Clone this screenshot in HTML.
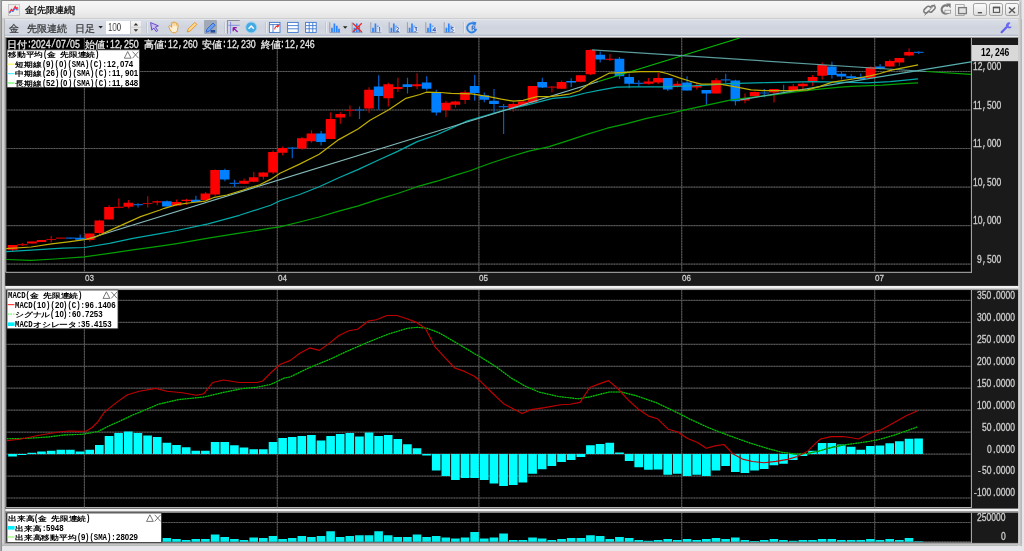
<!DOCTYPE html>
<html><head><meta charset="utf-8"><title>chart</title>
<style>
html,body{margin:0;padding:0}
body{width:1024px;height:551px;overflow:hidden;position:relative;background:#e7e7eb;font-family:"Liberation Sans",sans-serif}
.t{position:absolute;white-space:nowrap;display:block;transform-origin:0 50%;}
.m{font-family:"Liberation Mono",monospace}
.c{font-family:"Liberation Sans",sans-serif}
#chart{position:absolute;left:0;top:0}
#labels{will-change:transform}
#frame-l{position:absolute;left:0;top:0;width:2.1px;height:551px;background:linear-gradient(90deg,#a9a9a9 0,#a9a9a9 1.3px,#8e8e8e 1.3px,#8e8e8e 2.1px)}
#win{position:absolute;left:2.1px;top:0;width:1019.5px;height:545.5px;background:linear-gradient(180deg,#d2d2d2 0,#d2d2d2 543px,#c6c6c6 544px,#b9b9b9 545.5px)}
#win-l{position:absolute;left:3.7px;top:19px;width:1.5px;height:524.5px;background:#b6b6b6}
#frame-r{position:absolute;left:1018.1px;top:19px;width:3.5px;height:526.5px;background:linear-gradient(90deg,#d6d6d6 0,#d2d2d2 1.2px,#c4c4c4 2.2px,#b8b8b8 3.5px)}
#frame-b{position:absolute;left:2.1px;top:543.7px;width:1019.5px;height:1.8px;background:linear-gradient(180deg,#cfcfcf,#b8b8b8)}
#title{position:absolute;left:2.1px;top:0;width:1017.4px;height:19px;background:linear-gradient(180deg,#8a8a8a 0,#8a8a8a 0.8px,#f6f6f6 1px,#efefef 10px,#e3e3e3 18.4px,#b8b8b8 18.6px,#b8b8b8 19px)}
#tool{position:absolute;left:4.6px;top:19.4px;width:1013.8px;height:16.2px;background:linear-gradient(180deg,#eef0f4 0,#d9dde6 1px,#cfd4de 8px,#d2d7e0 15px,#b9c0cf 16.2px)}
#tool2{position:absolute;left:4.6px;top:35.6px;width:1013.8px;height:1.6px;background:#e9ebef}
.ttext{position:absolute;white-space:nowrap;color:#222}
.btn{position:absolute;top:3.4px;width:13.1px;height:13px;border:0.9px solid #a2a2a2;border-radius:2.2px;background:linear-gradient(180deg,#fafafa,#f0f0f0 45%,#dedede);box-sizing:border-box}
.sep{position:absolute;top:22px;width:1px;height:11px;background:#c2c7d2;box-shadow:1px 0 0 #e6e9ef}
.hl{position:absolute;top:20.4px;height:13.6px;background:#a2a9b6;border-radius:1px}

.ttext{will-change:transform}
#tr-line{position:absolute;left:1019.5px;top:1.5px;width:0.9px;height:17.5px;background:#bdbdbd}

</style></head><body>
<div id="frame-l"></div><div id="win"></div><div id="win-l"></div><div id="frame-r"></div><div id="frame-b"></div><div id="tr-line"></div>
<div id="title">
 <svg style="position:absolute;left:6px;top:4px" width="12" height="12" viewBox="0 0 12 12"><rect x="0.4" y="0.4" width="11.2" height="11.2" fill="#ececec" stroke="#bdbdbd" stroke-width="0.8"/><path d="M1.2 8.6 L3.4 5.4 L4.8 6.8 L7.2 2.6 L8.4 4.6 L10 3.6" stroke="#ff2840" stroke-width="1.3" fill="none"/><path d="M1.6 9.4 L3.6 6.6 L5 7.8 L7.2 4.2 L8.6 6 L10.4 5.6" stroke="#3070e0" stroke-width="0.9" fill="none"/></svg>
 <span class="ttext" style="left:22.8px;top:2.7px;font-size:9.4px;line-height:13px;color:#000;-webkit-text-stroke:0.25px #000">金[先限連続]</span>
 <svg style="position:absolute;left:917.9px;top:0" width="52" height="19" viewBox="920 0 52 19" fill="none" stroke="#7a7a7a"><g stroke-width="1.5" stroke-linecap="round"><path d="M928.6 11.2 l-1.2 1.2 a2.1 2.1 0 0 1 -3 -3 l2.6 -2.6 a2.1 2.1 0 0 1 3 0"/><path d="M930.4 8.8 l1.2 -1.2 a2.1 2.1 0 0 1 3 3 l-2.6 2.6 a2.1 2.1 0 0 1 -3 0" transform="translate(0 -1.6)"/></g><path d="M924.6 15.4 L934.8 4.4" stroke-width="1"/><path d="M948.2 6.2 a4.1 4.1 0 1 0 0.9 5.6" stroke-width="2.1"/><path d="M946 3.6 h4.6 v4.6 z" fill="#7a7a7a" stroke="none"/><rect x="944.9" y="10.2" width="5.8" height="3" fill="#f2f2f2" stroke="#8a8a8a" stroke-width="0.7"/><rect x="955.6" y="4.6" width="8.6" height="10.8" stroke-width="0.8" stroke="#9a9a9a"/><rect x="958.6" y="7.6" width="7.8" height="6" stroke-width="1.3" fill="#e2e2e2"/></svg>
 <div class="btn" style="left:971.4px"></div><div class="btn" style="left:987.4px"></div><div class="btn" style="left:1003.4px"></div>
 <svg style="position:absolute;left:967.9px;top:0" width="52" height="19" viewBox="970 0 52 19" fill="none" stroke="#555"><path d="M977.8 12.7 H982" stroke-width="1.4"/><rect x="993.4" y="7.6" width="6.2" height="4.8" stroke-width="1.1"/><path d="M992.9 7.4 H1000.1" stroke-width="1.6"/><path d="M1009 7.5 L1015 13.1 M1015 7.5 L1009 13.1" stroke-width="1.4"/></svg>
</div>
<div id="tool"></div><div id="tool2"></div>
<span class="ttext" style="left:8.6px;top:22.6px;font-size:9.6px;line-height:12px;color:#333;-webkit-text-stroke:0.2px #333">金</span>
<span class="ttext" style="left:26.6px;top:22.6px;font-size:9.6px;line-height:12px;color:#333;-webkit-text-stroke:0.2px #333">先限連続</span>
<span class="ttext" style="left:74.6px;top:22.6px;font-size:9.6px;line-height:12px;color:#333;-webkit-text-stroke:0.2px #333">日足</span>
<svg style="position:absolute;left:97px;top:24px" width="8" height="7" viewBox="0 0 8 7"><path d="M1.4 2 h4.4 l-2.2 2.6 z" fill="#222"/></svg>
<div style="position:absolute;left:106.2px;top:21.4px;width:23.6px;height:12.6px;background:#fff"></div>
<span class="ttext t c" style="left:108.2px;top:21.9px;font-size:10.4px;line-height:12px;color:#3c3c3c;transform:scaleX(0.76)">100</span>
<div style="position:absolute;left:130px;top:21.4px;width:11.4px;height:12.6px;background:linear-gradient(180deg,#f4f4f4,#dedede);border-left:0.6px solid #c4c4c4;box-sizing:border-box"></div>
<svg style="position:absolute;left:130px;top:21.4px" width="12" height="13" viewBox="0 0 12 13"><path d="M0.6 6.3 H11.4" stroke="#bdbdbd" stroke-width="0.6"/><path d="M3.6 4.6 L5.9 2 L8.2 4.6 z M3.6 8.2 L5.9 10.8 L8.2 8.2 z" fill="#333"/></svg>
<div class="sep" style="left:146px"></div>
<div class="hl" style="left:203.8px;width:13px"></div>
<div class="sep" style="left:224px"></div>
<div class="hl" style="left:226.6px;width:13.5px;background:#d3d7e0;border-left:1.6px solid #8d919c;border-top:1.4px solid #8d919c;box-sizing:border-box"></div>
<div class="sep" style="left:264.6px"></div>
<div class="sep" style="left:325.2px"></div>
<div class="sep" style="left:462.6px"></div>
<svg id="tbicons" style="position:absolute;left:0;top:19px" width="1024" height="18" viewBox="0 19 1024 18" fill="none">
 <!-- pointer -->
 <path d="M150.6 22.6 L158.4 25.8 L155.4 27 L157.8 30.6 L156.2 31.6 L153.8 28 L151.8 30.2 z" fill="#c9bcf2" stroke="#6a4cc8" stroke-width="1"/>
 <!-- hand -->
 <path d="M169.2 27.6 c-1.2 -1.8 0.6 -2.6 1.6 -1.2 l0.9 1 l-0.3 -4 c0 -1.3 1.5 -1.3 1.6 0 l0.2 -0.8 c0.2 -1.2 1.6 -1 1.6 0.2 l0.2 0.4 c0.4 -1.1 1.7 -0.8 1.6 0.4 l0.1 0.8 c0.5 -0.8 1.5 -0.4 1.4 0.6 l-0.4 4 c-0.2 2.4 -1.2 3.8 -3.6 3.8 c-2.6 0 -3.6 -1.8 -4.9 -5.2 z" fill="#fff0d4" stroke="#e0962c" stroke-width="0.9"/><path d="M173 26 v-2.6 M174.9 26 v-2.8 M176.7 26.2 v-2.2" stroke="#e8a84c" stroke-width="0.6"/>
 <!-- pencil -->
 <path d="M187.2 32 l1 -3 l6.6 -6.6 l2 2 l-6.6 6.6 z" fill="#ffd890" stroke="#e09020" stroke-width="0.9"/>
 <!-- pen (blue) -->
 <path d="M206 32.2 l1 -3.2 l6 -6 l2.2 2.2 l-6 6 z" fill="#6aa0f0" stroke="#2c64c8" stroke-width="0.9"/><path d="M210.6 30 h4.6 v2.6 h-4.6 z" fill="#24509c"/>
 <!-- crosshair w/ arrow -->
 <path d="M230.6 21.8 V33.6 M228.4 25.3 H239.6" stroke="#7a86e0" stroke-width="0.9"/><path d="M233.2 27.6 h3.6 M233.2 27.6 v3.6 M233.2 27.6 l4.4 4.4" stroke="#8a1ea8" stroke-width="1.3"/>
 <!-- blue circle -->
 <circle cx="251.2" cy="27.4" r="5.5" fill="#46aae2" stroke="#9ad4f2" stroke-width="0.9"/><path d="M248.6 28.8 L251.2 26 L253.8 28.8" stroke="#fff" stroke-width="1.4"/>
 <!-- table icons -->
 <g stroke="#3c78d0" stroke-width="0.9"><rect x="269.4" y="22.4" width="10.6" height="10" fill="#fff"/><path d="M269.4 24.6 H280 M273 24.6 V32.4"/><rect x="287.6" y="22.4" width="10.6" height="10" fill="#fff"/><path d="M287.6 25.6 H298.2 M287.6 28.8 H298.2"/><rect x="305.6" y="22.4" width="10.6" height="10" fill="#fff"/><path d="M305.6 25.6 H316.2 M305.6 28.8 H316.2 M309.2 22.4 V32.4 M312.8 22.4 V32.4"/></g>
 <path d="M274.6 29.4 c0.4 -2.4 1.8 -3.6 4 -3.6 m-1.6 -1.4 l1.8 1.4 l-1.8 1.4" stroke="#f03030" stroke-width="1.1"/>
 <!-- bar charts -->
 <defs><g id="bc"><path d="M0.4 0 V10.4 H10.8" stroke="#8a90a0" stroke-width="0.8"/><path d="M2.6 10 V5.6 M5 10 V1.4 M7.4 10 V3.6" stroke="#2c84ff" stroke-width="1.7"/></g></defs>
 <use href="#bc" x="329.4" y="22.2"/><path d="M9.6 0 V-3.4" transform="translate(329.4 32.2)" stroke="#2c84ff" stroke-width="1.7"/>
 <path d="M343 26.2 h4.4 l-2.2 2.6 z" fill="#222"/>
 <use href="#bc" x="351.8" y="22.2"/><path d="M352.8 23.2 L361.8 32 M361.8 23.2 L352.8 32" stroke="#f02828" stroke-width="1.3"/>
 <use href="#bc" x="370.4" y="22.2"/><rect x="377.2" y="26.6" width="4.2" height="5.4" fill="#e8ecf4"/><path d="M378.8 28 l0.9 -0.7 v4.4" stroke="#2850b0" stroke-width="0.9"/>
 <use href="#bc" x="388.8" y="22.2"/><rect x="395.6" y="26.6" width="4.2" height="5.4" fill="#e8ecf4"/><path d="M396.4 28 c0.6 -1 2.4 -0.8 2.2 0.6 l-2.2 2.8 h2.6" stroke="#2850b0" stroke-width="0.9"/>
 <use href="#bc" x="407" y="22.2"/><rect x="413.8" y="26.6" width="4.2" height="5.4" fill="#e8ecf4"/><path d="M414.6 27.6 h2.4 l-1.4 1.6 c1.8 0 1.8 2.4 -1.2 2.2" stroke="#2850b0" stroke-width="0.9"/>
 <use href="#bc" x="425.4" y="22.2"/><rect x="432.2" y="26.6" width="4.2" height="5.4" fill="#e8ecf4"/><path d="M435 31.6 v-4.2 l-2.2 3 h3" stroke="#2850b0" stroke-width="0.9"/>
 <use href="#bc" x="443.8" y="22.2"/><rect x="450.6" y="26.6" width="4.2" height="5.4" fill="#e8ecf4"/><path d="M453.6 27.4 h-2.2 v1.8 c2.4 -0.6 2.6 2.4 0 2.2" stroke="#2850b0" stroke-width="0.9"/>
 <path d="M475 24.6 a4.6 4.6 0 1 0 1.2 4.2" stroke="#2c84e8" stroke-width="1.9"/><path d="M472 21.6 l4.4 0.6 l-1.2 3.8 z" fill="#2c84e8"/><path d="M472.2 30.4 v-4.4 h1.6 c1.6 0 1.6 2.2 0 2.2 h-1.4 m1.4 0 l1.4 2.2" stroke="#2868c8" stroke-width="1"/>
</svg>
<svg style="position:absolute;left:1000px;top:21px" width="13" height="13" viewBox="0 0 13 13"><path d="M1.6 11.2 L7 5.8" stroke="#6060f0" stroke-width="2.2" stroke-linecap="round"/><path d="M10.6 1.8 a3 3 0 1 0 1.2 3.6 l-2.4 0.4 l-1 -1.4 z" fill="#6a6af4"/></svg>

<svg id="chart" width="1024" height="551" viewBox="0 0 1024 551">
<rect x="5.2" y="37.3" width="1012.9" height="506" fill="#1a1a1a"/>
<rect x="5.2" y="37" width="1012.9" height="0.9" fill="#9c9c9c"/>
<rect x="5.2" y="285.9" width="1013.4" height="3" fill="#f2f2f2"/>
<rect x="5.2" y="288.8" width="1012.9" height="1.3" fill="#9c9c9c"/>
<rect x="5.2" y="508.6" width="1013.4" height="3" fill="#f2f2f2"/>
<rect x="5.2" y="511.5" width="1012.9" height="1.3" fill="#9c9c9c"/>
<rect x="5.2" y="542.9" width="1012.9" height="0.9" fill="#a8a8a8"/>
<rect x="6.2" y="38" width="964.8" height="234" fill="#000"/>
<path d="M5.8 37.7 V272.3 H971.8 M971.4 37.7 V272.8" stroke="#b4b4b4" stroke-width="1" fill="none"/>
<rect x="6.2" y="290.2" width="964.8" height="217" fill="#000"/>
<path d="M5.8 289.9 V507.5 H971.8 M971.4 289.9 V508" stroke="#b4b4b4" stroke-width="1" fill="none"/>
<rect x="6.2" y="513" width="964.8" height="29.2" fill="#000"/>
<path d="M5.8 512.7 V542.5 H971.8 M971.4 512.7 V543" stroke="#b4b4b4" stroke-width="1" fill="none"/>
<path d="M6.2 71.5 H971 M6.2 110 H971 M6.2 148.5 H971 M6.2 187.1 H971 M6.2 225.6 H971 M6.2 264.1 H971 M6.2 300.4 H971 M6.2 322.4 H971 M6.2 344.3 H971 M6.2 366.3 H971 M6.2 388.2 H971 M6.2 410.2 H971 M6.2 432.2 H971 M6.2 454.1 H971 M6.2 476.1 H971 M6.2 498.0 H971 M6.2 522.5 H971 M6.2 541.8 H971 M84.4 38 V272 M84.4 290.2 V507.2 M84.4 513 V542 M277.3 38 V272 M277.3 290.2 V507.2 M277.3 513 V542 M478.9 38 V272 M478.9 290.2 V507.2 M478.9 513 V542 M681.7 38 V272 M681.7 290.2 V507.2 M681.7 513 V542 M874.7 38 V272 M874.7 290.2 V507.2 M874.7 513 V542" stroke="#2e2e2e" stroke-width="1.2" fill="none"/>
<path d="M6.2 71.5 H971 M6.2 110 H971 M6.2 148.5 H971 M6.2 187.1 H971 M6.2 225.6 H971 M6.2 264.1 H971 M6.2 300.4 H971 M6.2 322.4 H971 M6.2 344.3 H971 M6.2 366.3 H971 M6.2 388.2 H971 M6.2 410.2 H971 M6.2 432.2 H971 M6.2 454.1 H971 M6.2 476.1 H971 M6.2 498.0 H971 M6.2 522.5 H971 M6.2 541.8 H971 M84.4 38 V272 M84.4 290.2 V507.2 M84.4 513 V542 M277.3 38 V272 M277.3 290.2 V507.2 M277.3 513 V542 M478.9 38 V272 M478.9 290.2 V507.2 M478.9 513 V542 M681.7 38 V272 M681.7 290.2 V507.2 M681.7 513 V542 M874.7 38 V272 M874.7 290.2 V507.2 M874.7 513 V542" stroke="#6a6a6a" stroke-width="1" stroke-dasharray="0.8 0.8" fill="none"/>
<path d="M12.6 245.0 V251.0 M22.3 243.0 V246.0 M17.4 244.7 H27.0 M31.9 241.5 V243.4 M41.6 240.0 V241.9 M51.2 236.0 V242.3 M46.3 239.5 H56.0 M60.9 237.7 V238.4 M56.0 238.1 H65.6 M89.8 233.4 V241.5 M99.5 219.7 V234.5 M109.1 205.3 V219.4 M118.8 198.6 V208.2 M113.8 207.3 H123.5 M128.4 200.0 V208.4 M147.7 196.3 V207.5 M142.8 203.5 H152.4 M157.3 200.5 V205.2 M176.6 199.5 V206.0 M186.3 198.7 V205.0 M205.6 191.9 V200.5 M215.2 169.4 V195.8 M244.1 178.6 V184.0 M253.8 172.0 V182.2 M263.4 172.3 V179.4 M273.1 150.5 V173.9 M282.7 146.6 V155.6 M301.9 136.9 V149.7 M311.5 130.3 V142.8 M330.7 112.3 V138.9 M340.3 112.3 V123.8 M349.9 105.6 V116.6 M345.0 110.3 H354.6 M369.1 87.3 V112.8 M388.3 82.7 V106.6 M397.9 77.7 V92.0 M417.1 73.3 V88.9 M445.9 100.8 V117.2 M455.5 100.8 V107.8 M465.1 90.3 V103.9 M513.3 102.3 V111.7 M523.0 101.0 V106.0 M532.6 85.9 V103.4 M551.9 85.9 V92.2 M547.0 87.2 H556.7 M561.6 80.5 V88.8 M580.9 75.3 V82.3 M590.6 49.3 V75.0 M609.9 54.0 V61.0 M648.5 77.9 V84.4 M658.2 72.7 V84.1 M677.5 81.0 V87.6 M696.8 82.9 V89.4 M716.1 77.9 V93.5 M745.0 93.5 V103.2 M754.7 91.5 V96.2 M774.0 89.1 V102.4 M793.3 84.1 V89.9 M802.9 82.6 V89.1 M812.6 75.0 V85.7 M822.2 62.6 V79.4 M870.5 66.4 V78.3 M889.8 59.4 V66.5 M899.4 57.9 V65.7 M909.1 48.2 V56.3" stroke="#c00000" stroke-width="1.2" fill="none"/>
<path d="M70.5 237.2 V239.0 M65.6 238.1 H75.2 M80.2 234.5 V240.8 M138.0 203.3 V207.5 M133.1 204.7 H142.8 M167.0 200.5 V206.7 M195.9 195.8 V202.0 M224.9 168.8 V181.2 M234.5 179.7 V186.9 M229.6 183.3 H239.2 M292.3 146.9 V158.3 M287.4 148.1 H297.0 M321.1 131.0 V145.6 M359.5 106.4 V119.0 M354.6 110.0 H364.2 M378.7 75.2 V109.7 M407.5 77.7 V93.6 M426.7 76.2 V90.4 M436.3 89.8 V115.6 M474.7 75.0 V100.8 M484.3 92.5 V102.3 M494.0 89.0 V113.3 M503.6 103.9 V134.0 M498.7 106.6 H508.4 M542.3 77.8 V88.0 M571.2 78.3 V87.2 M600.2 51.6 V62.6 M619.5 57.1 V79.0 M629.2 73.5 V88.3 M638.8 80.2 V86.8 M633.9 83.3 H643.6 M667.8 77.9 V91.0 M687.1 76.3 V90.4 M706.4 89.9 V104.8 M725.7 73.8 V82.7 M720.8 79.8 H730.5 M735.4 79.7 V105.5 M764.3 89.1 V97.2 M759.4 93.0 H769.1 M783.6 84.8 V92.2 M778.7 90.7 H788.4 M831.9 61.8 V78.5 M841.5 71.2 V79.4 M851.2 74.3 V78.8 M860.8 73.5 V79.5 M880.1 64.1 V69.6 M918.7 51.2 V54.0 M913.8 52.4 H923.5" stroke="#0060c8" stroke-width="1.2" fill="none"/>
<path d="M7.7 245.0h9.7v4.8h-9.7zM27.0 241.5h9.7v1.9h-9.7zM36.7 240.0h9.6v1.9h-9.6zM84.9 233.4h9.6v6.6h-9.6zM94.5 220.5h9.6v12.5h-9.6zM104.2 206.9h9.6v12.5h-9.6zM123.5 202.8h9.6v3.9h-9.6zM152.4 201.2h9.6v1.2h-9.6zM171.7 202.0h9.6v3.6h-9.6zM181.4 199.7h9.6v1.2h-9.6zM200.6 193.4h9.6v6.6h-9.6zM210.3 170.0h9.6v24.4h-9.6zM239.2 180.7h9.6v3.0h-9.6zM248.9 177.3h9.6v4.4h-9.6zM258.5 172.5h9.6v4.3h-9.6zM268.2 152.0h9.6v20.5h-9.6zM277.8 148.1h9.6v4.7h-9.6zM297.0 138.3h9.6v10.1h-9.6zM306.6 133.5h9.6v7.8h-9.6zM325.8 119.0h9.6v19.9h-9.6zM335.4 113.9h9.6v3.6h-9.6zM364.2 89.7h9.6v18.7h-9.6zM383.4 84.2h9.6v14.1h-9.6zM393.0 86.9h9.6v2.0h-9.6zM412.2 84.2h9.6v2.0h-9.6zM441.0 102.8h9.6v7.4h-9.6zM450.6 101.6h9.6v3.1h-9.6zM460.2 92.2h9.6v7.8h-9.6zM508.4 103.9h9.7v4.2h-9.7zM518.0 101.6h9.7v3.9h-9.7zM527.7 85.9h9.7v16.4h-9.7zM556.7 82.0h9.7v6.8h-9.7zM576.0 75.3h9.7v6.5h-9.7zM585.6 50.0h9.7v24.3h-9.7zM604.9 58.7h9.7v1.0h-9.7zM643.6 81.6h9.7v2.1h-9.7zM653.2 77.9h9.7v4.7h-9.7zM672.5 83.7h9.7v2.3h-9.7zM691.9 85.7h9.6v1.9h-9.6zM711.2 80.2h9.6v13.3h-9.6zM740.1 98.2h9.6v2.2h-9.6zM749.8 91.9h9.7v4.3h-9.7zM769.1 89.1h9.6v3.5h-9.6zM788.4 86.3h9.6v3.6h-9.6zM798.0 83.7h9.7v2.6h-9.7zM807.7 76.9h9.6v5.2h-9.6zM817.3 64.9h9.6v10.9h-9.6zM865.6 66.9h9.6v11.0h-9.6zM884.9 61.0h9.6v5.5h-9.6zM894.5 57.9h9.7v4.7h-9.7zM904.2 52.1h9.6v3.4h-9.6z" fill="#ff0000"/>
<path d="M75.2 237.7h9.7v2.0h-9.7zM162.1 201.2h9.6v5.4h-9.6zM191.0 199.7h9.6v2.3h-9.6zM219.9 170.0h9.6v9.4h-9.6zM316.2 133.4h9.6v8.6h-9.6zM373.8 86.6h9.6v9.3h-9.6zM402.6 84.2h9.6v2.8h-9.6zM421.8 82.6h9.6v6.2h-9.6zM431.4 92.2h9.6v20.3h-9.6zM469.8 85.9h9.6v7.1h-9.6zM479.4 95.3h9.7v4.4h-9.7zM489.1 100.8h9.7v3.1h-9.7zM537.3 82.0h9.7v5.5h-9.7zM566.3 81.0h9.7v1.5h-9.7zM595.3 54.8h9.7v4.6h-9.7zM614.6 58.7h9.7v17.6h-9.7zM624.3 76.9h9.7v6.8h-9.7zM662.9 77.9h9.7v11.5h-9.7zM682.2 82.6h9.6v7.8h-9.6zM701.5 89.9h9.7v3.6h-9.7zM730.5 80.5h9.6v20.8h-9.6zM827.0 66.5h9.6v8.5h-9.6zM836.6 73.8h9.6v2.8h-9.6zM846.2 76.3h9.7v1.9h-9.7zM855.9 76.9h9.6v2.1h-9.6zM875.2 66.5h9.6v2.3h-9.6z" fill="#0080ff"/>
<polyline points="6.2,259.5 31.2,260.3 54.7,259.0 84.4,256.9 109.4,253.3 132.8,249.8 160.0,246.2 176.9,243.6 208.1,238.2 239.4,233.2 270.6,228.1 280.0,226.9 299.6,222.0 319.2,217.0 338.8,211.2 358.4,205.9 378.0,199.4 397.6,193.5 417.2,186.7 436.9,181.2 456.5,174.9 470.0,170.8 489.6,163.5 509.2,157.0 528.8,151.2 548.4,146.9 568.0,140.6 587.6,134.1 607.2,128.2 626.9,123.7 646.5,118.4 670.0,113.5 681.7,110.7 730.0,100.2 751.2,97.3 770.0,95.3 793.4,92.2 816.9,89.4 840.3,87.1 851.2,86.4 882.5,85.2 900.0,83.9 918.1,82.8" stroke="#00a000" stroke-width="1.2" fill="none" stroke-linejoin="round" />
<polyline points="6.2,251.7 31.2,250.2 62.5,248.1 84.4,247.5 109.4,243.4 132.8,238.4 160.0,233.6 176.9,230.5 208.1,223.9 239.4,215.3 270.6,205.2 280.0,200.8 299.6,194.5 319.2,186.7 338.8,177.8 358.4,169.4 378.0,160.2 397.6,151.4 417.2,141.6 436.9,134.7 456.5,125.9 466.9,121.1 504.4,110.2 529.4,104.4 552.8,98.4 570.0,96.9 585.6,93.0 601.2,89.9 616.9,87.2 632.5,86.8 663.8,86.8 695.0,85.7 710.6,84.8 730.0,83.7 766.9,82.6 813.8,81.6 860.6,82.6 866.9,82.9 890.3,81.6 918.1,78.8" stroke="#00aaaa" stroke-width="1.2" fill="none" stroke-linejoin="round" />
<polyline points="87.5,239.0 598.5,81.5" stroke="#86baba" stroke-width="1.1" fill="none" stroke-linejoin="round" />
<polyline points="598.5,81.5 739.6,38.0" stroke="#00c000" stroke-width="1.2" fill="none" stroke-linejoin="round" />
<polyline points="591.9,49.8 926.4,71.5" stroke="#5a9c9c" stroke-width="1.2" fill="none" stroke-linejoin="round" />
<polyline points="926.4,71.5 971.0,74.3" stroke="#00aa00" stroke-width="1.2" fill="none" stroke-linejoin="round" />
<polyline points="740.3,99.8 971.0,61.8" stroke="#58b0b0" stroke-width="1.2" fill="none" stroke-linejoin="round" />
<polyline points="6.2,248.6 31.2,247.0 51.6,243.9 70.3,241.6 84.4,239.7 93.8,237.7 109.4,230.6 125.0,223.6 140.6,216.6 160.0,210.0 164.4,208.3 176.9,204.7 192.5,202.5 205.0,201.2 214.4,197.3 226.9,195.0 242.5,190.3 259.7,184.8 270.6,179.4 280.0,173.3 299.6,164.1 319.2,154.3 338.8,139.6 358.4,128.8 370.0,120.2 388.8,109.7 405.9,98.3 420.0,94.5 426.2,92.2 440.3,92.5 451.2,93.4 471.6,93.8 488.8,96.6 501.2,99.2 513.8,101.2 523.1,100.3 537.2,96.6 549.7,96.6 560.6,95.3 570.0,93.8 579.4,90.7 590.3,82.9 609.0,73.2 621.6,72.7 640.3,71.6 659.0,71.6 666.9,73.5 679.4,77.9 690.3,81.3 701.2,84.1 720.0,84.1 735.6,86.8 751.2,89.9 766.9,90.7 790.3,90.7 807.5,89.9 820.0,86.4 832.5,82.1 852.8,79.0 870.0,75.8 880.0,73.5 890.3,70.4 918.1,64.9" stroke="#c0b000" stroke-width="1.2" fill="none" stroke-linejoin="round" />
<path d="M8.2 454.1h8.7v2.3h-8.7zM17.9 454.1h8.6v1.0h-8.6zM27.5 452.7h8.7v1.4h-8.7zM37.2 451.6h8.6v2.5h-8.6zM46.8 450.8h8.6v3.3h-8.6zM56.5 449.8h8.7v4.3h-8.7zM66.1 449.8h8.6v4.3h-8.6zM75.8 451.6h8.7v2.5h-8.7zM85.4 449.8h8.6v4.3h-8.6zM95.0 444.9h8.6v9.2h-8.6zM104.7 436.1h8.6v18.0h-8.6zM114.3 433.1h8.6v21.0h-8.6zM124.0 431.6h8.6v22.5h-8.6zM133.6 433.1h8.6v21.0h-8.6zM143.3 435.5h8.6v18.6h-8.6zM152.9 437.1h8.6v17.0h-8.6zM162.6 442.7h8.6v11.4h-8.6zM172.2 444.9h8.6v9.2h-8.6zM181.9 447.2h8.6v6.9h-8.6zM191.5 450.8h8.6v3.3h-8.6zM201.1 450.8h8.6v3.3h-8.6zM210.8 441.9h8.6v12.2h-8.6zM220.4 441.9h8.6v12.2h-8.6zM230.1 445.3h8.6v8.8h-8.6zM239.7 447.6h8.6v6.5h-8.6zM249.4 449.2h8.6v4.9h-8.6zM259.0 449.2h8.6v4.9h-8.6zM268.7 441.9h8.6v12.2h-8.6zM278.3 438.0h8.6v16.1h-8.6zM287.9 437.0h8.6v17.1h-8.6zM297.5 435.9h8.6v18.2h-8.6zM307.1 435.1h8.6v19.0h-8.6zM316.7 440.4h8.6v13.7h-8.6zM326.3 435.9h8.6v18.2h-8.6zM335.9 434.1h8.6v20.0h-8.6zM345.5 433.1h8.6v21.0h-8.6zM355.1 436.5h8.6v17.6h-8.6zM364.7 432.5h8.6v21.6h-8.6zM374.3 435.9h8.6v18.2h-8.6zM383.9 435.1h8.6v19.0h-8.6zM393.5 439.0h8.6v15.1h-8.6zM403.1 444.3h8.6v9.8h-8.6zM412.7 448.2h8.6v5.9h-8.6zM422.3 454.1h8.6v1.5h-8.6zM431.9 454.1h8.6v16.3h-8.6zM441.5 454.1h8.6v22.0h-8.6zM451.1 454.1h8.6v26.0h-8.6zM460.7 454.1h8.6v24.0h-8.6zM470.3 454.1h8.6v24.0h-8.6zM479.9 454.1h8.7v26.0h-8.7zM489.6 454.1h8.7v29.4h-8.7zM499.2 454.1h8.7v32.0h-8.7zM508.9 454.1h8.7v31.0h-8.7zM518.5 454.1h8.7v28.4h-8.7zM528.2 454.1h8.7v19.6h-8.7zM537.8 454.1h8.7v15.1h-8.7zM547.5 454.1h8.7v11.8h-8.7zM557.2 454.1h8.7v7.8h-8.7zM566.8 454.1h8.7v5.9h-8.7zM576.5 454.1h8.7v3.0h-8.7zM586.1 445.3h8.7v8.8h-8.7zM595.8 443.9h8.7v10.2h-8.7zM605.4 442.7h8.7v11.4h-8.7zM615.1 452.5h8.7v1.6h-8.7zM624.8 454.1h8.7v6.9h-8.7zM634.4 454.1h8.7v13.1h-8.7zM644.1 454.1h8.7v15.7h-8.7zM653.7 454.1h8.7v15.3h-8.7zM663.4 454.1h8.7v20.6h-8.7zM673.0 454.1h8.7v19.6h-8.7zM682.7 454.1h8.6v22.0h-8.6zM692.4 454.1h8.6v20.6h-8.6zM702.0 454.1h8.7v22.0h-8.7zM711.7 454.1h8.6v16.3h-8.6zM721.3 454.1h8.6v11.8h-8.6zM731.0 454.1h8.6v18.0h-8.6zM740.6 454.1h8.6v18.8h-8.6zM750.2 454.1h8.7v16.3h-8.7zM759.9 454.1h8.6v14.9h-8.6zM769.6 454.1h8.6v11.2h-8.6zM779.2 454.1h8.6v9.6h-8.6zM788.9 454.1h8.6v5.9h-8.6zM798.5 454.1h8.7v2.0h-8.7zM808.2 450.8h8.6v3.3h-8.6zM817.8 443.0h8.6v11.1h-8.6zM827.5 443.0h8.6v11.1h-8.6zM837.1 444.5h8.6v9.6h-8.6zM846.8 446.8h8.7v7.3h-8.7zM856.4 449.8h8.6v4.3h-8.6zM866.1 446.1h8.6v8.0h-8.6zM875.7 445.4h8.6v8.8h-8.6zM885.4 443.2h8.6v10.9h-8.6zM895.0 441.2h8.7v12.9h-8.7zM904.7 438.8h8.6v15.3h-8.6zM914.3 438.6h8.6v15.5h-8.6z" fill="#00ffff"/>
<polyline points="6.9,438.8 29.4,438.2 49.0,436.9 64.7,434.9 82.4,434.3 98.0,431.5 109.8,425.5 119.6,421.2 133.3,414.7 139.2,412.4 158.8,404.1 178.4,399.6 203.9,397.0 223.5,392.4 241.2,388.8 256.9,387.2 270.6,384.5 284.3,378.0 290.0,377.0 309.6,367.5 329.2,359.6 348.8,350.4 368.4,342.0 388.0,334.2 407.6,328.3 417.5,327.3 427.2,328.3 439.0,332.8 456.7,343.0 476.3,354.8 480.0,356.7 495.7,366.5 511.4,378.2 525.1,386.1 538.8,392.0 558.4,396.5 578.0,398.8 589.8,396.9 601.6,393.9 609.4,392.0 621.2,392.0 636.9,395.9 656.5,402.8 668.0,408.2 680.0,414.1 689.6,419.0 709.2,428.0 728.8,435.5 748.4,442.5 768.0,448.6 781.8,452.2 795.5,454.1 807.2,453.5 819.0,451.0 830.8,447.6 842.5,445.1 858.2,443.0 870.0,441.2 878.1,439.7 893.8,435.3 906.2,430.9 917.2,427.0" stroke="#006400" stroke-width="1.1" fill="none" stroke-linejoin="round" />
<polyline points="6.9,438.8 29.4,438.2 49.0,436.9 64.7,434.9 82.4,434.3 98.0,431.5 109.8,425.5 119.6,421.2 133.3,414.7 139.2,412.4 158.8,404.1 178.4,399.6 203.9,397.0 223.5,392.4 241.2,388.8 256.9,387.2 270.6,384.5 284.3,378.0 290.0,377.0 309.6,367.5 329.2,359.6 348.8,350.4 368.4,342.0 388.0,334.2 407.6,328.3 417.5,327.3 427.2,328.3 439.0,332.8 456.7,343.0 476.3,354.8 480.0,356.7 495.7,366.5 511.4,378.2 525.1,386.1 538.8,392.0 558.4,396.5 578.0,398.8 589.8,396.9 601.6,393.9 609.4,392.0 621.2,392.0 636.9,395.9 656.5,402.8 668.0,408.2 680.0,414.1 689.6,419.0 709.2,428.0 728.8,435.5 748.4,442.5 768.0,448.6 781.8,452.2 795.5,454.1 807.2,453.5 819.0,451.0 830.8,447.6 842.5,445.1 858.2,443.0 870.0,441.2 878.1,439.7 893.8,435.3 906.2,430.9 917.2,427.0" stroke="#00c800" stroke-width="1.1" fill="none" stroke-linejoin="round" stroke-dasharray="1.6 1"/>
<polyline points="6.9,440.6 19.6,439.2 39.2,435.3 58.8,432.0 68.6,431.0 78.4,431.4 86.3,431.0 92.2,427.5 98.0,421.6 103.9,412.8 107.8,409.4 117.6,401.6 127.5,394.7 139.2,391.2 155.9,388.4 166.7,391.2 182.4,392.7 196.1,395.3 203.9,393.7 212.7,382.5 223.5,380.0 239.2,382.5 256.9,382.5 262.7,381.0 272.5,371.2 280.4,364.3 290.0,360.6 299.8,353.2 309.6,347.9 319.4,350.4 329.2,343.4 339.0,335.5 348.8,330.8 357.6,329.2 368.4,321.0 376.3,319.8 387.0,315.5 396.9,315.5 407.6,319.0 416.5,322.4 425.3,328.3 435.1,346.9 444.9,357.7 454.7,368.0 464.5,371.4 474.3,376.3 480.0,380.8 491.8,392.5 503.5,403.7 522.2,413.5 531.0,409.6 544.7,407.6 560.4,404.7 570.2,404.3 580.0,402.4 589.8,387.5 598.6,384.1 608.4,380.6 617.2,388.0 629.0,400.8 638.8,409.6 648.6,416.1 657.5,418.8 668.2,429.2 677.8,432.0 687.6,438.5 697.5,442.5 706.3,448.3 715.1,445.9 723.9,444.5 732.7,453.7 742.5,459.1 752.4,461.5 764.1,462.8 775.9,461.4 787.6,459.4 797.5,456.5 807.5,451.3 815.4,443.4 820.6,439.0 831.0,436.6 843.0,436.5 851.6,437.7 858.5,439.0 867.2,434.5 875.0,431.4 881.2,429.8 893.8,422.8 906.2,415.8 917.5,410.8" stroke="#c00000" stroke-width="1.15" fill="none" stroke-linejoin="round" />
<path d="M162.6 538.1h8.6v3.7h-8.6zM172.2 539.1h8.6v2.7h-8.6zM181.9 540.0h8.6v1.8h-8.6zM191.5 539.1h8.6v2.7h-8.6zM201.1 539.1h8.6v2.7h-8.6zM210.8 534.6h8.6v7.2h-8.6zM220.4 537.1h8.6v4.7h-8.6zM230.1 539.1h8.6v2.7h-8.6zM239.7 540.0h8.6v1.8h-8.6zM249.4 537.5h8.6v4.3h-8.6zM259.0 538.1h8.6v3.7h-8.6zM268.7 535.9h8.6v5.9h-8.6zM278.3 539.1h8.6v2.7h-8.6zM287.9 538.1h8.6v3.7h-8.6zM297.5 535.9h8.6v5.9h-8.6zM307.1 536.9h8.6v4.9h-8.6zM316.7 535.9h8.6v5.9h-8.6zM326.3 531.3h8.6v10.5h-8.6zM335.9 536.9h8.6v4.9h-8.6zM345.5 535.9h8.6v5.9h-8.6zM355.1 535.2h8.6v6.6h-8.6zM364.7 535.2h8.6v6.6h-8.6zM374.3 531.3h8.6v10.5h-8.6zM383.9 535.2h8.6v6.6h-8.6zM393.5 536.9h8.6v4.9h-8.6zM403.1 536.9h8.6v4.9h-8.6zM412.7 534.6h8.6v7.2h-8.6zM422.3 536.9h8.6v4.9h-8.6zM431.9 536.1h8.6v5.7h-8.6zM441.5 537.5h8.6v4.3h-8.6zM451.1 538.5h8.6v3.3h-8.6zM460.7 537.5h8.6v4.3h-8.6zM470.3 532.0h8.6v9.8h-8.6zM479.9 538.5h8.7v3.3h-8.7zM489.6 537.5h8.7v4.3h-8.7zM499.2 533.6h8.7v8.2h-8.7zM508.9 540.0h8.7v1.8h-8.7zM518.5 540.0h8.7v1.8h-8.7zM528.2 537.5h8.7v4.3h-8.7zM537.8 538.5h8.7v3.3h-8.7zM547.5 540.0h8.7v1.8h-8.7zM557.2 539.1h8.7v2.7h-8.7zM566.8 538.1h8.7v3.7h-8.7zM576.5 538.1h8.7v3.7h-8.7zM586.1 535.2h8.7v6.6h-8.7zM595.8 535.9h8.7v5.9h-8.7zM605.4 539.1h8.7v2.7h-8.7zM615.1 536.9h8.7v4.9h-8.7zM624.8 538.1h8.7v3.7h-8.7zM634.4 540.0h8.7v1.8h-8.7zM644.1 540.8h8.7v1.0h-8.7zM653.7 540.0h8.7v1.8h-8.7zM663.4 539.1h8.7v2.7h-8.7zM673.0 540.0h8.7v1.8h-8.7zM682.7 539.1h8.6v2.7h-8.6zM692.4 540.0h8.6v1.8h-8.6zM702.0 539.1h8.7v2.7h-8.7zM711.7 538.1h8.6v3.7h-8.6zM721.3 539.1h8.6v2.7h-8.6zM731.0 537.5h8.6v4.3h-8.6zM740.6 540.0h8.6v1.8h-8.6zM750.2 541.0h8.7v0.8h-8.7zM759.9 540.0h8.6v1.8h-8.6zM769.6 539.1h8.6v2.7h-8.6zM779.2 540.0h8.6v1.8h-8.6zM788.9 540.8h8.6v1.0h-8.6zM798.5 540.0h8.7v1.8h-8.7zM808.2 540.0h8.6v1.8h-8.6zM817.8 539.1h8.6v2.7h-8.6zM827.5 539.1h8.6v2.7h-8.6zM837.1 540.0h8.6v1.8h-8.6zM846.8 540.0h8.7v1.8h-8.7zM856.4 540.0h8.6v1.8h-8.6zM866.1 539.1h8.6v2.7h-8.6zM875.7 540.0h8.6v1.8h-8.6zM885.4 539.1h8.6v2.7h-8.6zM895.0 540.0h8.7v1.8h-8.7zM904.7 538.1h8.6v3.7h-8.6zM914.3 541.3h8.6v0.5h-8.6z" fill="#00f0f0"/>
<rect x="972" y="45" width="46.5" height="16.2" fill="#d9d9d9"/>
<rect x="7" y="49.8" width="132.6" height="37.8" fill="#fff" stroke="#333" stroke-width="0.8"/>
<rect x="7" y="290" width="111" height="38.8" fill="#fff" stroke="#333" stroke-width="0.8"/>
<rect x="7" y="513" width="154.5" height="29.4" fill="#fff" stroke="#333" stroke-width="0.8"/>
<path d="M7.6 64.2H14.4" stroke="#ffff50" stroke-width="1.2"/>
<path d="M7.6 73.6H14.4" stroke="#50f4ff" stroke-width="1.2"/>
<path d="M7.6 83H14.4" stroke="#60ff60" stroke-width="1.2"/>
<path d="M7.6 304.6H14.4" stroke="#ff4040" stroke-width="1.2"/>
<path d="M7.6 314.2H14.4" stroke="#60ff60" stroke-width="1.2" stroke-dasharray="1.6 1.2"/>
<rect x="7.6" y="322.4" width="7" height="3.6" fill="#00f0ff"/>
<rect x="7.6" y="526" width="7" height="3.6" fill="#00f0ff"/>
<path d="M7.6 537H14.4" stroke="#90ff70" stroke-width="1.2"/>
<path d="M124.3 58.2 l3.4 -6.6 l3.4 6.6 z M132.5 58.2 l6 -6.6 m-6 0 l6 6.6" stroke="#555" stroke-width="0.8" fill="none"/>
<path d="M103 298.4 l3.4 -6.6 l3.4 6.6 z M111.2 298.4 l6 -6.6 m-6 0 l6 6.6" stroke="#555" stroke-width="0.8" fill="none"/>
<path d="M146.5 521.4 l3.4 -6.6 l3.4 6.6 z M154.7 521.4 l6 -6.6 m-6 0 l6 6.6" stroke="#555" stroke-width="0.8" fill="none"/>
</svg>
<div id="labels">
<span class="t c" style="left:7.0px;top:38.0px;font-size:9.8px;line-height:13px;color:#e6e6e6;-webkit-text-stroke:0.3px #e6e6e6;">日付</span><span class="t m" style="left:26.5px;top:37.9px;font-size:11.4px;line-height:13px;color:#e6e6e6;-webkit-text-stroke:0.3px #e6e6e6;transform:scaleX(0.712)">:</span><span class="t c" style="left:31.4px;top:37.9px;font-size:10.9px;line-height:12px;color:#e6e6e6;-webkit-text-stroke:0.3px #e6e6e6;transform:scaleX(0.809)">2024</span><span class="t m" style="left:50.9px;top:37.9px;font-size:11.4px;line-height:13px;color:#e6e6e6;-webkit-text-stroke:0.3px #e6e6e6;transform:scaleX(0.712)">/</span><span class="t c" style="left:55.8px;top:37.9px;font-size:10.9px;line-height:12px;color:#e6e6e6;-webkit-text-stroke:0.3px #e6e6e6;transform:scaleX(0.809)">07</span><span class="t m" style="left:65.6px;top:37.9px;font-size:11.4px;line-height:13px;color:#e6e6e6;-webkit-text-stroke:0.3px #e6e6e6;transform:scaleX(0.712)">/</span><span class="t c" style="left:70.4px;top:37.9px;font-size:10.9px;line-height:12px;color:#e6e6e6;-webkit-text-stroke:0.3px #e6e6e6;transform:scaleX(0.809)">05</span><span class="t c" style="left:85.1px;top:38.0px;font-size:9.8px;line-height:13px;color:#e6e6e6;-webkit-text-stroke:0.3px #e6e6e6;">始値</span><span class="t m" style="left:104.6px;top:37.9px;font-size:11.4px;line-height:13px;color:#e6e6e6;-webkit-text-stroke:0.3px #e6e6e6;transform:scaleX(0.712)">:</span><span class="t c" style="left:109.5px;top:37.9px;font-size:10.9px;line-height:12px;color:#e6e6e6;-webkit-text-stroke:0.3px #e6e6e6;transform:scaleX(0.809)">12</span><span class="t m" style="left:119.2px;top:37.9px;font-size:11.4px;line-height:13px;color:#e6e6e6;-webkit-text-stroke:0.3px #e6e6e6;transform:scaleX(0.712)">,</span><span class="t c" style="left:124.1px;top:37.9px;font-size:10.9px;line-height:12px;color:#e6e6e6;-webkit-text-stroke:0.3px #e6e6e6;transform:scaleX(0.809)">250</span><span class="t c" style="left:143.6px;top:38.0px;font-size:9.8px;line-height:13px;color:#e6e6e6;-webkit-text-stroke:0.3px #e6e6e6;">高値</span><span class="t m" style="left:163.2px;top:37.9px;font-size:11.4px;line-height:13px;color:#e6e6e6;-webkit-text-stroke:0.3px #e6e6e6;transform:scaleX(0.712)">:</span><span class="t c" style="left:168.0px;top:37.9px;font-size:10.9px;line-height:12px;color:#e6e6e6;-webkit-text-stroke:0.3px #e6e6e6;transform:scaleX(0.809)">12</span><span class="t m" style="left:177.8px;top:37.9px;font-size:11.4px;line-height:13px;color:#e6e6e6;-webkit-text-stroke:0.3px #e6e6e6;transform:scaleX(0.712)">,</span><span class="t c" style="left:182.7px;top:37.9px;font-size:10.9px;line-height:12px;color:#e6e6e6;-webkit-text-stroke:0.3px #e6e6e6;transform:scaleX(0.809)">260</span><span class="t c" style="left:202.2px;top:38.0px;font-size:9.8px;line-height:13px;color:#e6e6e6;-webkit-text-stroke:0.3px #e6e6e6;">安値</span><span class="t m" style="left:221.7px;top:37.9px;font-size:11.4px;line-height:13px;color:#e6e6e6;-webkit-text-stroke:0.3px #e6e6e6;transform:scaleX(0.712)">:</span><span class="t c" style="left:226.6px;top:37.9px;font-size:10.9px;line-height:12px;color:#e6e6e6;-webkit-text-stroke:0.3px #e6e6e6;transform:scaleX(0.809)">12</span><span class="t m" style="left:236.4px;top:37.9px;font-size:11.4px;line-height:13px;color:#e6e6e6;-webkit-text-stroke:0.3px #e6e6e6;transform:scaleX(0.712)">,</span><span class="t c" style="left:241.2px;top:37.9px;font-size:10.9px;line-height:12px;color:#e6e6e6;-webkit-text-stroke:0.3px #e6e6e6;transform:scaleX(0.809)">230</span><span class="t c" style="left:260.8px;top:38.0px;font-size:9.8px;line-height:13px;color:#e6e6e6;-webkit-text-stroke:0.3px #e6e6e6;">終値</span><span class="t m" style="left:280.3px;top:37.9px;font-size:11.4px;line-height:13px;color:#e6e6e6;-webkit-text-stroke:0.3px #e6e6e6;transform:scaleX(0.712)">:</span><span class="t c" style="left:285.2px;top:37.9px;font-size:10.9px;line-height:12px;color:#e6e6e6;-webkit-text-stroke:0.3px #e6e6e6;transform:scaleX(0.809)">12</span><span class="t m" style="left:294.9px;top:37.9px;font-size:11.4px;line-height:13px;color:#e6e6e6;-webkit-text-stroke:0.3px #e6e6e6;transform:scaleX(0.712)">,</span><span class="t c" style="left:299.8px;top:37.9px;font-size:10.9px;line-height:12px;color:#e6e6e6;-webkit-text-stroke:0.3px #e6e6e6;transform:scaleX(0.809)">246</span>
<span class="t c" style="left:7.6px;top:50.2px;font-size:7.0px;line-height:9px;color:#000;font-weight:bold;transform:scaleX(1.253);">移動平均</span><span class="t m" style="left:42.6px;top:50.2px;font-size:8.5px;line-height:10px;color:#000;font-weight:bold;transform:scaleX(0.858)">(</span><span class="t c" style="left:47.0px;top:50.2px;font-size:7.0px;line-height:9px;color:#000;font-weight:bold;transform:scaleX(1.253);">金</span><span class="t c" style="left:60.2px;top:50.2px;font-size:7.0px;line-height:9px;color:#000;font-weight:bold;transform:scaleX(1.253);">先限連続</span><span class="t m" style="left:95.2px;top:50.2px;font-size:8.5px;line-height:10px;color:#000;font-weight:bold;transform:scaleX(0.858)">)</span>
<span class="t c" style="left:15.2px;top:59.8px;font-size:7.0px;line-height:9px;color:#000;font-weight:bold;transform:scaleX(1.253);">短期線</span><span class="t m" style="left:41.5px;top:59.7px;font-size:8.5px;line-height:10px;color:#000;font-weight:bold;transform:scaleX(0.858)">(</span><span class="t c" style="left:45.9px;top:58.7px;font-size:8.8px;line-height:10px;color:#000;font-weight:bold;transform:scaleX(0.895)">9</span><span class="t m" style="left:50.2px;top:59.7px;font-size:8.5px;line-height:10px;color:#000;font-weight:bold;transform:scaleX(0.858)">)(</span><span class="t c" style="left:59.0px;top:58.7px;font-size:8.8px;line-height:10px;color:#000;font-weight:bold;transform:scaleX(0.895)">0</span><span class="t m" style="left:63.4px;top:59.7px;font-size:8.5px;line-height:10px;color:#000;font-weight:bold;transform:scaleX(0.858)">)(SMA)(C):</span><span class="t c" style="left:107.2px;top:58.7px;font-size:8.8px;line-height:10px;color:#000;font-weight:bold;transform:scaleX(0.895)">12</span><span class="t m" style="left:115.9px;top:59.7px;font-size:8.5px;line-height:10px;color:#000;font-weight:bold;transform:scaleX(0.858)">,</span><span class="t c" style="left:120.3px;top:58.7px;font-size:8.8px;line-height:10px;color:#000;font-weight:bold;transform:scaleX(0.895)">074</span>
<span class="t c" style="left:15.2px;top:69.3px;font-size:7.0px;line-height:9px;color:#000;font-weight:bold;transform:scaleX(1.253);">中期線</span><span class="t m" style="left:41.5px;top:69.2px;font-size:8.5px;line-height:10px;color:#000;font-weight:bold;transform:scaleX(0.858)">(</span><span class="t c" style="left:45.9px;top:68.2px;font-size:8.8px;line-height:10px;color:#000;font-weight:bold;transform:scaleX(0.895)">26</span><span class="t m" style="left:54.6px;top:69.2px;font-size:8.5px;line-height:10px;color:#000;font-weight:bold;transform:scaleX(0.858)">)(</span><span class="t c" style="left:63.4px;top:68.2px;font-size:8.8px;line-height:10px;color:#000;font-weight:bold;transform:scaleX(0.895)">0</span><span class="t m" style="left:67.8px;top:69.2px;font-size:8.5px;line-height:10px;color:#000;font-weight:bold;transform:scaleX(0.858)">)(SMA)(C):</span><span class="t c" style="left:111.6px;top:68.2px;font-size:8.8px;line-height:10px;color:#000;font-weight:bold;transform:scaleX(0.895)">11</span><span class="t m" style="left:120.3px;top:69.2px;font-size:8.5px;line-height:10px;color:#000;font-weight:bold;transform:scaleX(0.858)">,</span><span class="t c" style="left:124.7px;top:68.2px;font-size:8.8px;line-height:10px;color:#000;font-weight:bold;transform:scaleX(0.895)">901</span>
<span class="t c" style="left:15.2px;top:78.8px;font-size:7.0px;line-height:9px;color:#000;font-weight:bold;transform:scaleX(1.253);">長期線</span><span class="t m" style="left:41.5px;top:78.7px;font-size:8.5px;line-height:10px;color:#000;font-weight:bold;transform:scaleX(0.858)">(</span><span class="t c" style="left:45.9px;top:77.7px;font-size:8.8px;line-height:10px;color:#000;font-weight:bold;transform:scaleX(0.895)">52</span><span class="t m" style="left:54.6px;top:78.7px;font-size:8.5px;line-height:10px;color:#000;font-weight:bold;transform:scaleX(0.858)">)(</span><span class="t c" style="left:63.4px;top:77.7px;font-size:8.8px;line-height:10px;color:#000;font-weight:bold;transform:scaleX(0.895)">0</span><span class="t m" style="left:67.8px;top:78.7px;font-size:8.5px;line-height:10px;color:#000;font-weight:bold;transform:scaleX(0.858)">)(SMA)(C):</span><span class="t c" style="left:111.6px;top:77.7px;font-size:8.8px;line-height:10px;color:#000;font-weight:bold;transform:scaleX(0.895)">11</span><span class="t m" style="left:120.3px;top:78.7px;font-size:8.5px;line-height:10px;color:#000;font-weight:bold;transform:scaleX(0.858)">,</span><span class="t c" style="left:124.7px;top:77.7px;font-size:8.8px;line-height:10px;color:#000;font-weight:bold;transform:scaleX(0.895)">848</span>
<span class="t m" style="left:7.6px;top:291.0px;font-size:8.5px;line-height:10px;color:#000;font-weight:bold;transform:scaleX(0.858)">MACD(</span><span class="t c" style="left:29.5px;top:291.0px;font-size:7.0px;line-height:9px;color:#000;font-weight:bold;transform:scaleX(1.253);">金</span><span class="t c" style="left:42.6px;top:291.0px;font-size:7.0px;line-height:9px;color:#000;font-weight:bold;transform:scaleX(1.253);">先限連続</span><span class="t m" style="left:77.7px;top:291.0px;font-size:8.5px;line-height:10px;color:#000;font-weight:bold;transform:scaleX(0.858)">)</span>
<span class="t m" style="left:15.2px;top:300.6px;font-size:8.5px;line-height:10px;color:#000;font-weight:bold;transform:scaleX(0.858)">MACD(</span><span class="t c" style="left:37.1px;top:299.6px;font-size:8.8px;line-height:10px;color:#000;font-weight:bold;transform:scaleX(0.895)">10</span><span class="t m" style="left:45.9px;top:300.6px;font-size:8.5px;line-height:10px;color:#000;font-weight:bold;transform:scaleX(0.858)">)(</span><span class="t c" style="left:54.6px;top:299.6px;font-size:8.8px;line-height:10px;color:#000;font-weight:bold;transform:scaleX(0.895)">20</span><span class="t m" style="left:63.4px;top:300.6px;font-size:8.5px;line-height:10px;color:#000;font-weight:bold;transform:scaleX(0.858)">)(C):</span><span class="t c" style="left:85.3px;top:299.6px;font-size:8.8px;line-height:10px;color:#000;font-weight:bold;transform:scaleX(0.895)">96</span><span class="t m" style="left:94.0px;top:300.6px;font-size:8.5px;line-height:10px;color:#000;font-weight:bold;transform:scaleX(0.858)">.</span><span class="t c" style="left:98.4px;top:299.6px;font-size:8.8px;line-height:10px;color:#000;font-weight:bold;transform:scaleX(0.895)">1406</span>
<span class="t c" style="left:15.2px;top:310.3px;font-size:7.0px;line-height:9px;color:#000;font-weight:bold;transform:scaleX(1.253);">シグナル</span><span class="t m" style="left:50.2px;top:310.3px;font-size:8.5px;line-height:10px;color:#000;font-weight:bold;transform:scaleX(0.858)">(</span><span class="t c" style="left:54.6px;top:309.3px;font-size:8.8px;line-height:10px;color:#000;font-weight:bold;transform:scaleX(0.895)">10</span><span class="t m" style="left:63.4px;top:310.3px;font-size:8.5px;line-height:10px;color:#000;font-weight:bold;transform:scaleX(0.858)">):</span><span class="t c" style="left:72.1px;top:309.3px;font-size:8.8px;line-height:10px;color:#000;font-weight:bold;transform:scaleX(0.895)">60</span><span class="t m" style="left:80.9px;top:310.3px;font-size:8.5px;line-height:10px;color:#000;font-weight:bold;transform:scaleX(0.858)">.</span><span class="t c" style="left:85.3px;top:309.3px;font-size:8.8px;line-height:10px;color:#000;font-weight:bold;transform:scaleX(0.895)">7253</span>
<span class="t m" style="left:15.2px;top:319.9px;font-size:8.5px;line-height:10px;color:#000;font-weight:bold;transform:scaleX(0.858)">MACD</span><span class="t c" style="left:32.7px;top:319.9px;font-size:7.0px;line-height:9px;color:#000;font-weight:bold;transform:scaleX(1.253);">オシレータ</span><span class="t m" style="left:76.5px;top:319.9px;font-size:8.5px;line-height:10px;color:#000;font-weight:bold;transform:scaleX(0.858)">:</span><span class="t c" style="left:80.9px;top:318.9px;font-size:8.8px;line-height:10px;color:#000;font-weight:bold;transform:scaleX(0.895)">35</span><span class="t m" style="left:89.7px;top:319.9px;font-size:8.5px;line-height:10px;color:#000;font-weight:bold;transform:scaleX(0.858)">.</span><span class="t c" style="left:94.0px;top:318.9px;font-size:8.8px;line-height:10px;color:#000;font-weight:bold;transform:scaleX(0.895)">4153</span>
<span class="t c" style="left:7.6px;top:514.0px;font-size:7.0px;line-height:9px;color:#000;font-weight:bold;transform:scaleX(1.253);">出来高</span><span class="t m" style="left:33.9px;top:514.0px;font-size:8.5px;line-height:10px;color:#000;font-weight:bold;transform:scaleX(0.858)">(</span><span class="t c" style="left:38.3px;top:514.0px;font-size:7.0px;line-height:9px;color:#000;font-weight:bold;transform:scaleX(1.253);">金</span><span class="t c" style="left:51.4px;top:514.0px;font-size:7.0px;line-height:9px;color:#000;font-weight:bold;transform:scaleX(1.253);">先限連続</span><span class="t m" style="left:86.4px;top:514.0px;font-size:8.5px;line-height:10px;color:#000;font-weight:bold;transform:scaleX(0.858)">)</span>
<span class="t c" style="left:15.2px;top:523.8px;font-size:7.0px;line-height:9px;color:#000;font-weight:bold;transform:scaleX(1.253);">出来高</span><span class="t m" style="left:41.5px;top:523.7px;font-size:8.5px;line-height:10px;color:#000;font-weight:bold;transform:scaleX(0.858)">:</span><span class="t c" style="left:45.9px;top:522.7px;font-size:8.8px;line-height:10px;color:#000;font-weight:bold;transform:scaleX(0.895)">5948</span>
<span class="t c" style="left:15.2px;top:533.3px;font-size:7.0px;line-height:9px;color:#000;font-weight:bold;transform:scaleX(1.253);">出来高移動平均</span><span class="t m" style="left:76.5px;top:533.3px;font-size:8.5px;line-height:10px;color:#000;font-weight:bold;transform:scaleX(0.858)">(</span><span class="t c" style="left:80.9px;top:532.3px;font-size:8.8px;line-height:10px;color:#000;font-weight:bold;transform:scaleX(0.895)">9</span><span class="t m" style="left:85.3px;top:533.3px;font-size:8.5px;line-height:10px;color:#000;font-weight:bold;transform:scaleX(0.858)">)(SMA):</span><span class="t c" style="left:115.9px;top:532.3px;font-size:8.8px;line-height:10px;color:#000;font-weight:bold;transform:scaleX(0.895)">28029</span>
<span class="t c" style="left:972.5px;top:61.0px;font-size:10.4px;line-height:11px;color:#cfcfcf;-webkit-text-stroke:0.3px #cfcfcf;transform:scaleX(0.820)">12</span><span class="t m" style="left:981.9px;top:61.0px;font-size:10.9px;line-height:12px;color:#cfcfcf;-webkit-text-stroke:0.3px #cfcfcf;transform:scaleX(0.722)">,</span><span class="t c" style="left:986.6px;top:61.0px;font-size:10.4px;line-height:11px;color:#cfcfcf;-webkit-text-stroke:0.3px #cfcfcf;transform:scaleX(0.820)">000</span>
<span class="t c" style="left:972.5px;top:99.5px;font-size:10.4px;line-height:11px;color:#cfcfcf;-webkit-text-stroke:0.3px #cfcfcf;transform:scaleX(0.820)">11</span><span class="t m" style="left:981.9px;top:99.5px;font-size:10.9px;line-height:12px;color:#cfcfcf;-webkit-text-stroke:0.3px #cfcfcf;transform:scaleX(0.722)">,</span><span class="t c" style="left:986.6px;top:99.5px;font-size:10.4px;line-height:11px;color:#cfcfcf;-webkit-text-stroke:0.3px #cfcfcf;transform:scaleX(0.820)">500</span>
<span class="t c" style="left:972.5px;top:138.0px;font-size:10.4px;line-height:11px;color:#cfcfcf;-webkit-text-stroke:0.3px #cfcfcf;transform:scaleX(0.820)">11</span><span class="t m" style="left:981.9px;top:138.0px;font-size:10.9px;line-height:12px;color:#cfcfcf;-webkit-text-stroke:0.3px #cfcfcf;transform:scaleX(0.722)">,</span><span class="t c" style="left:986.6px;top:138.0px;font-size:10.4px;line-height:11px;color:#cfcfcf;-webkit-text-stroke:0.3px #cfcfcf;transform:scaleX(0.820)">000</span>
<span class="t c" style="left:972.5px;top:176.6px;font-size:10.4px;line-height:11px;color:#cfcfcf;-webkit-text-stroke:0.3px #cfcfcf;transform:scaleX(0.820)">10</span><span class="t m" style="left:981.9px;top:176.6px;font-size:10.9px;line-height:12px;color:#cfcfcf;-webkit-text-stroke:0.3px #cfcfcf;transform:scaleX(0.722)">,</span><span class="t c" style="left:986.6px;top:176.6px;font-size:10.4px;line-height:11px;color:#cfcfcf;-webkit-text-stroke:0.3px #cfcfcf;transform:scaleX(0.820)">500</span>
<span class="t c" style="left:972.5px;top:215.1px;font-size:10.4px;line-height:11px;color:#cfcfcf;-webkit-text-stroke:0.3px #cfcfcf;transform:scaleX(0.820)">10</span><span class="t m" style="left:981.9px;top:215.1px;font-size:10.9px;line-height:12px;color:#cfcfcf;-webkit-text-stroke:0.3px #cfcfcf;transform:scaleX(0.722)">,</span><span class="t c" style="left:986.6px;top:215.1px;font-size:10.4px;line-height:11px;color:#cfcfcf;-webkit-text-stroke:0.3px #cfcfcf;transform:scaleX(0.820)">000</span>
<span class="t c" style="left:977.2px;top:253.6px;font-size:10.4px;line-height:11px;color:#cfcfcf;-webkit-text-stroke:0.3px #cfcfcf;transform:scaleX(0.820)">9</span><span class="t m" style="left:981.9px;top:253.6px;font-size:10.9px;line-height:12px;color:#cfcfcf;-webkit-text-stroke:0.3px #cfcfcf;transform:scaleX(0.722)">,</span><span class="t c" style="left:986.6px;top:253.6px;font-size:10.4px;line-height:11px;color:#cfcfcf;-webkit-text-stroke:0.3px #cfcfcf;transform:scaleX(0.820)">500</span>
<span class="t c" style="left:977.4px;top:289.9px;font-size:10.4px;line-height:11px;color:#cfcfcf;-webkit-text-stroke:0.3px #cfcfcf;transform:scaleX(0.820)">350</span><span class="t m" style="left:991.6px;top:289.9px;font-size:10.9px;line-height:12px;color:#cfcfcf;-webkit-text-stroke:0.3px #cfcfcf;transform:scaleX(0.722)">.</span><span class="t c" style="left:996.3px;top:289.9px;font-size:10.4px;line-height:11px;color:#cfcfcf;-webkit-text-stroke:0.3px #cfcfcf;transform:scaleX(0.820)">0000</span>
<span class="t c" style="left:977.4px;top:311.8px;font-size:10.4px;line-height:11px;color:#cfcfcf;-webkit-text-stroke:0.3px #cfcfcf;transform:scaleX(0.820)">300</span><span class="t m" style="left:991.6px;top:311.8px;font-size:10.9px;line-height:12px;color:#cfcfcf;-webkit-text-stroke:0.3px #cfcfcf;transform:scaleX(0.722)">.</span><span class="t c" style="left:996.3px;top:311.8px;font-size:10.4px;line-height:11px;color:#cfcfcf;-webkit-text-stroke:0.3px #cfcfcf;transform:scaleX(0.820)">0000</span>
<span class="t c" style="left:977.4px;top:333.8px;font-size:10.4px;line-height:11px;color:#cfcfcf;-webkit-text-stroke:0.3px #cfcfcf;transform:scaleX(0.820)">250</span><span class="t m" style="left:991.6px;top:333.8px;font-size:10.9px;line-height:12px;color:#cfcfcf;-webkit-text-stroke:0.3px #cfcfcf;transform:scaleX(0.722)">.</span><span class="t c" style="left:996.3px;top:333.8px;font-size:10.4px;line-height:11px;color:#cfcfcf;-webkit-text-stroke:0.3px #cfcfcf;transform:scaleX(0.820)">0000</span>
<span class="t c" style="left:977.4px;top:355.7px;font-size:10.4px;line-height:11px;color:#cfcfcf;-webkit-text-stroke:0.3px #cfcfcf;transform:scaleX(0.820)">200</span><span class="t m" style="left:991.6px;top:355.7px;font-size:10.9px;line-height:12px;color:#cfcfcf;-webkit-text-stroke:0.3px #cfcfcf;transform:scaleX(0.722)">.</span><span class="t c" style="left:996.3px;top:355.7px;font-size:10.4px;line-height:11px;color:#cfcfcf;-webkit-text-stroke:0.3px #cfcfcf;transform:scaleX(0.820)">0000</span>
<span class="t c" style="left:977.4px;top:377.7px;font-size:10.4px;line-height:11px;color:#cfcfcf;-webkit-text-stroke:0.3px #cfcfcf;transform:scaleX(0.820)">150</span><span class="t m" style="left:991.6px;top:377.7px;font-size:10.9px;line-height:12px;color:#cfcfcf;-webkit-text-stroke:0.3px #cfcfcf;transform:scaleX(0.722)">.</span><span class="t c" style="left:996.3px;top:377.7px;font-size:10.4px;line-height:11px;color:#cfcfcf;-webkit-text-stroke:0.3px #cfcfcf;transform:scaleX(0.820)">0000</span>
<span class="t c" style="left:977.4px;top:399.6px;font-size:10.4px;line-height:11px;color:#cfcfcf;-webkit-text-stroke:0.3px #cfcfcf;transform:scaleX(0.820)">100</span><span class="t m" style="left:991.6px;top:399.6px;font-size:10.9px;line-height:12px;color:#cfcfcf;-webkit-text-stroke:0.3px #cfcfcf;transform:scaleX(0.722)">.</span><span class="t c" style="left:996.3px;top:399.6px;font-size:10.4px;line-height:11px;color:#cfcfcf;-webkit-text-stroke:0.3px #cfcfcf;transform:scaleX(0.820)">0000</span>
<span class="t c" style="left:982.2px;top:421.5px;font-size:10.4px;line-height:11px;color:#cfcfcf;-webkit-text-stroke:0.3px #cfcfcf;transform:scaleX(0.820)">50</span><span class="t m" style="left:991.6px;top:421.5px;font-size:10.9px;line-height:12px;color:#cfcfcf;-webkit-text-stroke:0.3px #cfcfcf;transform:scaleX(0.722)">.</span><span class="t c" style="left:996.3px;top:421.5px;font-size:10.4px;line-height:11px;color:#cfcfcf;-webkit-text-stroke:0.3px #cfcfcf;transform:scaleX(0.820)">0000</span>
<span class="t c" style="left:986.9px;top:443.5px;font-size:10.4px;line-height:11px;color:#cfcfcf;-webkit-text-stroke:0.3px #cfcfcf;transform:scaleX(0.820)">0</span><span class="t m" style="left:991.6px;top:443.5px;font-size:10.9px;line-height:12px;color:#cfcfcf;-webkit-text-stroke:0.3px #cfcfcf;transform:scaleX(0.722)">.</span><span class="t c" style="left:996.3px;top:443.5px;font-size:10.4px;line-height:11px;color:#cfcfcf;-webkit-text-stroke:0.3px #cfcfcf;transform:scaleX(0.820)">0000</span>
<span class="t m" style="left:977.4px;top:465.4px;font-size:10.9px;line-height:12px;color:#cfcfcf;-webkit-text-stroke:0.3px #cfcfcf;transform:scaleX(0.722)">-</span><span class="t c" style="left:982.2px;top:465.4px;font-size:10.4px;line-height:11px;color:#cfcfcf;-webkit-text-stroke:0.3px #cfcfcf;transform:scaleX(0.820)">50</span><span class="t m" style="left:991.6px;top:465.4px;font-size:10.9px;line-height:12px;color:#cfcfcf;-webkit-text-stroke:0.3px #cfcfcf;transform:scaleX(0.722)">.</span><span class="t c" style="left:996.3px;top:465.4px;font-size:10.4px;line-height:11px;color:#cfcfcf;-webkit-text-stroke:0.3px #cfcfcf;transform:scaleX(0.820)">0000</span>
<span class="t m" style="left:972.7px;top:487.4px;font-size:10.9px;line-height:12px;color:#cfcfcf;-webkit-text-stroke:0.3px #cfcfcf;transform:scaleX(0.722)">-</span><span class="t c" style="left:977.4px;top:487.4px;font-size:10.4px;line-height:11px;color:#cfcfcf;-webkit-text-stroke:0.3px #cfcfcf;transform:scaleX(0.820)">100</span><span class="t m" style="left:991.6px;top:487.4px;font-size:10.9px;line-height:12px;color:#cfcfcf;-webkit-text-stroke:0.3px #cfcfcf;transform:scaleX(0.722)">.</span><span class="t c" style="left:996.3px;top:487.4px;font-size:10.4px;line-height:11px;color:#cfcfcf;-webkit-text-stroke:0.3px #cfcfcf;transform:scaleX(0.820)">0000</span>
<span class="t c" style="left:976.9px;top:511.9px;font-size:10.4px;line-height:11px;color:#cfcfcf;-webkit-text-stroke:0.3px #cfcfcf;transform:scaleX(0.820)">250000</span>
<span class="t c" style="left:1000.5px;top:531.1px;font-size:10.4px;line-height:11px;color:#cfcfcf;-webkit-text-stroke:0.3px #cfcfcf;transform:scaleX(0.820)">0</span>
<span class="t c" style="left:980.5px;top:45.7px;font-size:10.5px;line-height:12px;color:#000;font-weight:bold;transform:scaleX(0.819)">12</span><span class="t m" style="left:990.1px;top:46.7px;font-size:11.0px;line-height:12px;color:#000;font-weight:bold;transform:scaleX(0.721)">,</span><span class="t c" style="left:994.9px;top:45.7px;font-size:10.5px;line-height:12px;color:#000;font-weight:bold;transform:scaleX(0.819)">246</span>
<span class="t c" style="left:84.8px;top:271.8px;font-size:9.9px;line-height:11px;color:#cfcfcf;-webkit-text-stroke:0.3px #cfcfcf;transform:scaleX(0.815)">03</span>
<span class="t c" style="left:277.7px;top:271.8px;font-size:9.9px;line-height:11px;color:#cfcfcf;-webkit-text-stroke:0.3px #cfcfcf;transform:scaleX(0.815)">04</span>
<span class="t c" style="left:479.3px;top:271.8px;font-size:9.9px;line-height:11px;color:#cfcfcf;-webkit-text-stroke:0.3px #cfcfcf;transform:scaleX(0.815)">05</span>
<span class="t c" style="left:682.1px;top:271.8px;font-size:9.9px;line-height:11px;color:#cfcfcf;-webkit-text-stroke:0.3px #cfcfcf;transform:scaleX(0.815)">06</span>
<span class="t c" style="left:875.1px;top:271.8px;font-size:9.9px;line-height:11px;color:#cfcfcf;-webkit-text-stroke:0.3px #cfcfcf;transform:scaleX(0.815)">07</span>
</div>
</body></html>
